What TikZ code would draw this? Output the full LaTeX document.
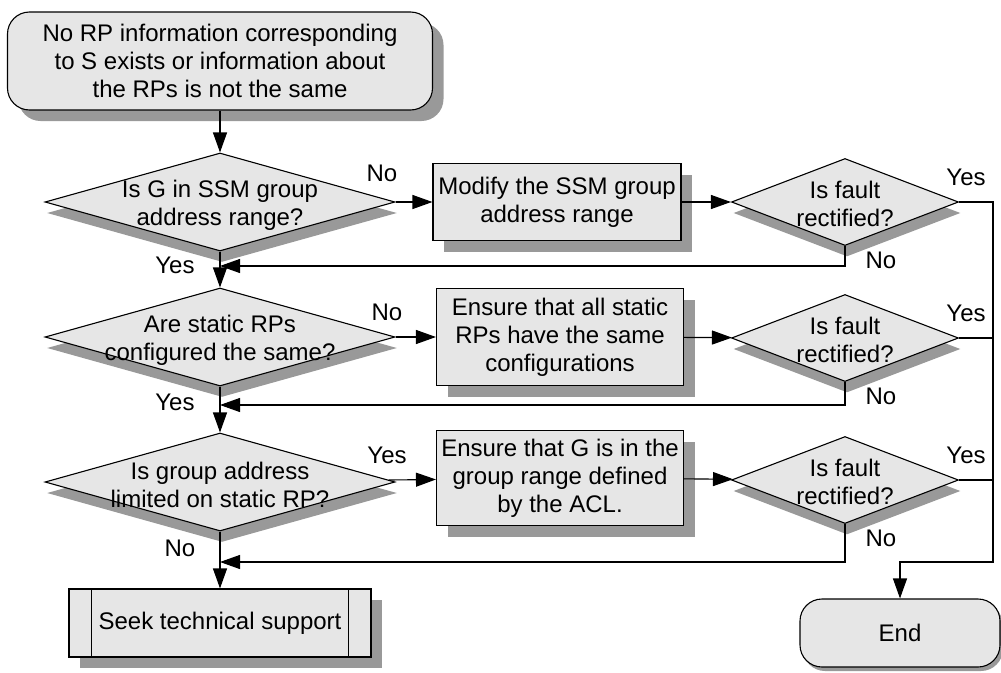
\documentclass[tikz,border=0pt]{standalone}
\usepackage{fontspec}
\setmainfont{Liberation Sans}
\usepackage{xcolor}
\usetikzlibrary{shapes,arrows.meta,positioning,shadows,calc}

\definecolor{boxgray}{RGB}{230,230,230}
\definecolor{shadowgray}{RGB}{153,153,153}

\tikzset{
    base/.style={draw, fill=boxgray, align=center, inner sep=0pt},
    boxshadow/.style={drop shadow={shadow xshift=11pt, shadow yshift=-11pt, fill=shadowgray, opacity=1}},
    terminal/.style={base, rounded corners=22pt},
    process/.style={base, rectangle, boxshadow},
    question/.style={base, diamond, minimum width=350, minimum height=98,
        drop shadow={shadow xshift=2pt, shadow yshift=-11pt, fill=shadowgray, opacity=1}},
    check/.style={question, minimum width=227, minimum height=87},
    flow/.style={-{Triangle[length=20pt, width=14pt]}},
}

\begin{document}
\begin{tikzpicture}[x=1pt, y=-1pt, font=\fontsize{24}{28}\selectfont, line width=1.1pt]
        \useasboundingbox (0,0) rectangle (1001,672);
        % left column
        \node[terminal, boxshadow, minimum width=425, minimum height=98] (start) at (220,61)
            {No RP information corresponding\\to S exists or information about\\the RPs is not the same};
        \node[question, label={[align=center, yshift=-3pt]center:{Is G in SSM group\\address range?}}] (q1) at (220,202) {};
        \node[question, label={[align=center, yshift=-3pt]center:{Are static RPs\\configured the same?}}] (q2) at (220,337) {};
        \node[question, label={[align=center, yshift=-3pt]center:{Is group address\\limited on static RP?}}] (q3) at (220,482) {};
        \node[process, minimum width=302, minimum height=68] (seek) at (220,623) {Seek technical support};
        \draw ([xshift=23pt]seek.north west) -- ([xshift=23pt]seek.south west);
        \draw ([xshift=-23pt]seek.north east) -- ([xshift=-23pt]seek.south east);
        % middle column
        \node[process, minimum width=248, minimum height=77] (fix1) at (557,202)
            {Modify the SSM group\\address range};
        \node[process, minimum width=247, minimum height=97] (fix2) at (560,337)
            {Ensure that all static\\RPs have the same\\configurations};
        \node[process, minimum width=247, minimum height=95] (fix3) at (560,478)
            {Ensure that G is in the\\group range defined\\by the ACL.};
        % end
        \node[terminal, minimum width=200, minimum height=68,
            drop shadow={shadow xshift=3pt, shadow yshift=-4pt, fill=shadowgray, opacity=1}] (stop) at (900,633) {End};
        \coordinate (bus) at (993,562);

        \draw[flow] (start) -- (q1);
        \draw[flow] (q1) -- (q2);
        \draw[flow] (q2) -- (q3);
        \draw[flow] (q3) -- (seek);
        \draw[flow] (q1) -- (fix1);
        \draw[flow] (q2) -- (fix2);
        \draw[flow] (q3) -- (fix3);
        \node (no1) at (382,173) {No};
        \node (yes1) at (175,265) {Yes};
        \node (no2) at (387,312) {No};
        \node (yes2) at (175,402) {Yes};
        \node (yes3) at (387,455) {Yes};
        \node (no3) at (180,548) {No};

        % fault checks, back to the left column or on to the end
        \foreach \i/\y/\r in {1/202/266, 2/338/405, 3/480/562} {
            \node[check, label={[align=center, yshift=-2pt]center:{Is fault\\rectified?}}] (chk\i) at (845,\y) {};
            \coordinate (ret\i) at (220,\r);
            \draw[flow] (fix\i) -- (chk\i);
            \draw[flow] (chk\i.south) |- (ret\i);
            \draw (chk\i.east) -- (chk\i.east -| bus);
            \node (yesr\i) at (966,\y-25) {Yes};
            \node (nor\i) at (881,\y+58) {No};
        }
        \draw[flow] (chk1.east) -| (bus) -| (stop.north);
    \end{tikzpicture}
\end{document}
